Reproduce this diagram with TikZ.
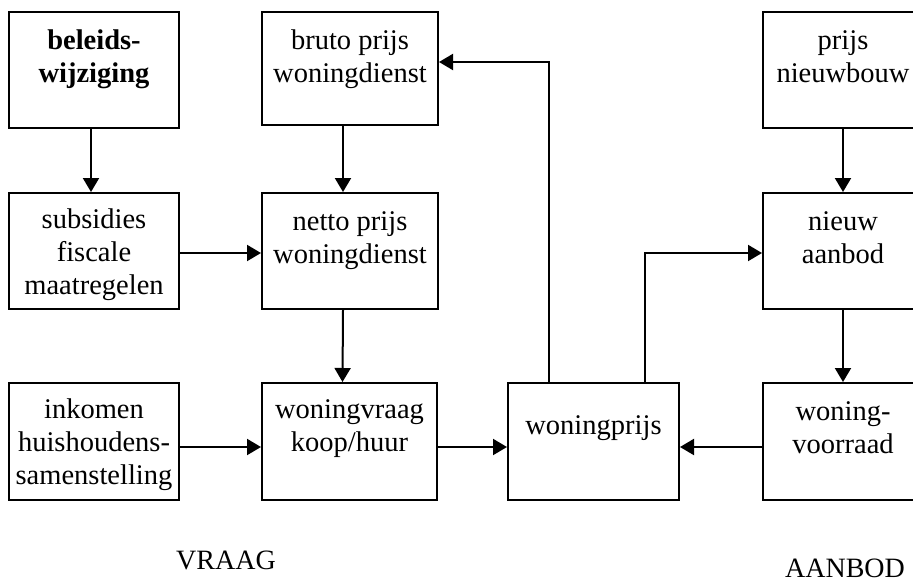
\documentclass[tikz,border=0pt]{standalone}
\usepackage{fontspec}
\setmainfont{Liberation Serif}
\usetikzlibrary{arrows.meta}
\begin{document}
\begin{tikzpicture}[x=1pt,y=-1pt,
  box/.style={draw=black,line width=2pt,inner sep=0pt,minimum width=170pt,minimum height=116pt},
  txt/.style={inner sep=0pt,anchor=north,align=center,font=\fontsize{28.5}{33}\selectfont},
  lbl/.style={inner sep=0pt,anchor=base,font=\fontsize{28}{33}\selectfont},
  conn/.style={line width=2pt,-{Triangle[length=14pt,width=16pt]}}]
\clip (0,0) rectangle (913,582);
% boxes
\node[box] (beleids) at (94,70) {};
\node[box,minimum width=176pt,minimum height=113pt] (bruto) at (350,68.5) {};
\node[box,minimum width=172pt] (nieuwbouw) at (849,70) {};
\node[box] (subsidies) at (94,251) {};
\node[box,minimum width=176pt] (netto) at (350,251) {};
\node[box,minimum width=172pt] (aanbod) at (849,251) {};
\node[box,minimum height=117pt] (inkomen) at (94,441.5) {};
\node[box,minimum width=175pt,minimum height=117pt] (vraag) at (349.5,441.5) {};
\node[box,minimum width=171pt,minimum height=117pt] (prijs) at (593.5,441.5) {};
\node[box,minimum width=172pt,minimum height=117pt] (voorraad) at (849,441.5) {};
% texts
\node[txt] (t1) at ([yshift=-19pt]beleids.north) {\textbf{beleids-}\\\textbf{wijziging}};
\node[txt] (t2) at ([yshift=-19pt]bruto.north) {bruto prijs\\woningdienst};
\node[txt] (t3) at ([yshift=-19pt,xshift=-6pt]nieuwbouw.north) {prijs\\nieuwbouw};
\node[txt] (t4) at ([yshift=-17pt]subsidies.north) {subsidies\\fiscale\\maatregelen};
\node[txt] (t5) at ([yshift=-19pt]netto.north) {netto prijs\\woningdienst};
\node[txt] (t6) at ([yshift=-19pt,xshift=-6pt]aanbod.north) {nieuw\\aanbod};
\node[txt] (t7) at ([yshift=-17pt]inkomen.north) {inkomen\\huishoudens-\\samenstelling};
\node[txt] (t8) at ([yshift=-17pt]vraag.north) {woningvraag\\koop/huur};
\node[txt] (t9) at ([yshift=-33pt]prijs.north) {woningprijs};
\node[txt] (t10) at ([yshift=-19pt,xshift=-6pt]voorraad.north) {woning-\\voorraad};
\node[lbl] (vr) at (226,569) {VRAAG};
\node[lbl] (ab) at (845,577) {AANBOD};
% connectors
\draw[conn] ([xshift=-3pt]beleids.south) -- ([xshift=-3pt]subsidies.north);
\draw[conn] ([xshift=-7pt]bruto.south) -- ([xshift=-7pt]netto.north);
\draw[conn] ([xshift=-6pt]nieuwbouw.south) -- ([xshift=-6pt]aanbod.north);
\draw[conn] ([yshift=-2pt]subsidies.east) -- ([yshift=-2pt]netto.west);
\draw[conn] ([xshift=-7pt]netto.south) -- ([xshift=-7pt]vraag.north);
\draw[conn] ([xshift=-6pt]aanbod.south) -- ([xshift=-6pt]voorraad.north);
\draw[conn] ([yshift=-5.5pt]inkomen.east) -- ([yshift=-5.5pt]vraag.west);
\draw[conn] ([yshift=-5.5pt]vraag.east) -- ([yshift=-5.5pt]prijs.west);
\draw[conn] ([yshift=-5.5pt]voorraad.west) -- ([yshift=-5.5pt]prijs.east);
\draw[conn] ([xshift=-44.5pt]prijs.north) |- ([yshift=6.5pt]bruto.east);
\draw[conn] ([xshift=51.5pt]prijs.north) |- ([yshift=-2pt]aanbod.west);
\end{tikzpicture}
\end{document}
